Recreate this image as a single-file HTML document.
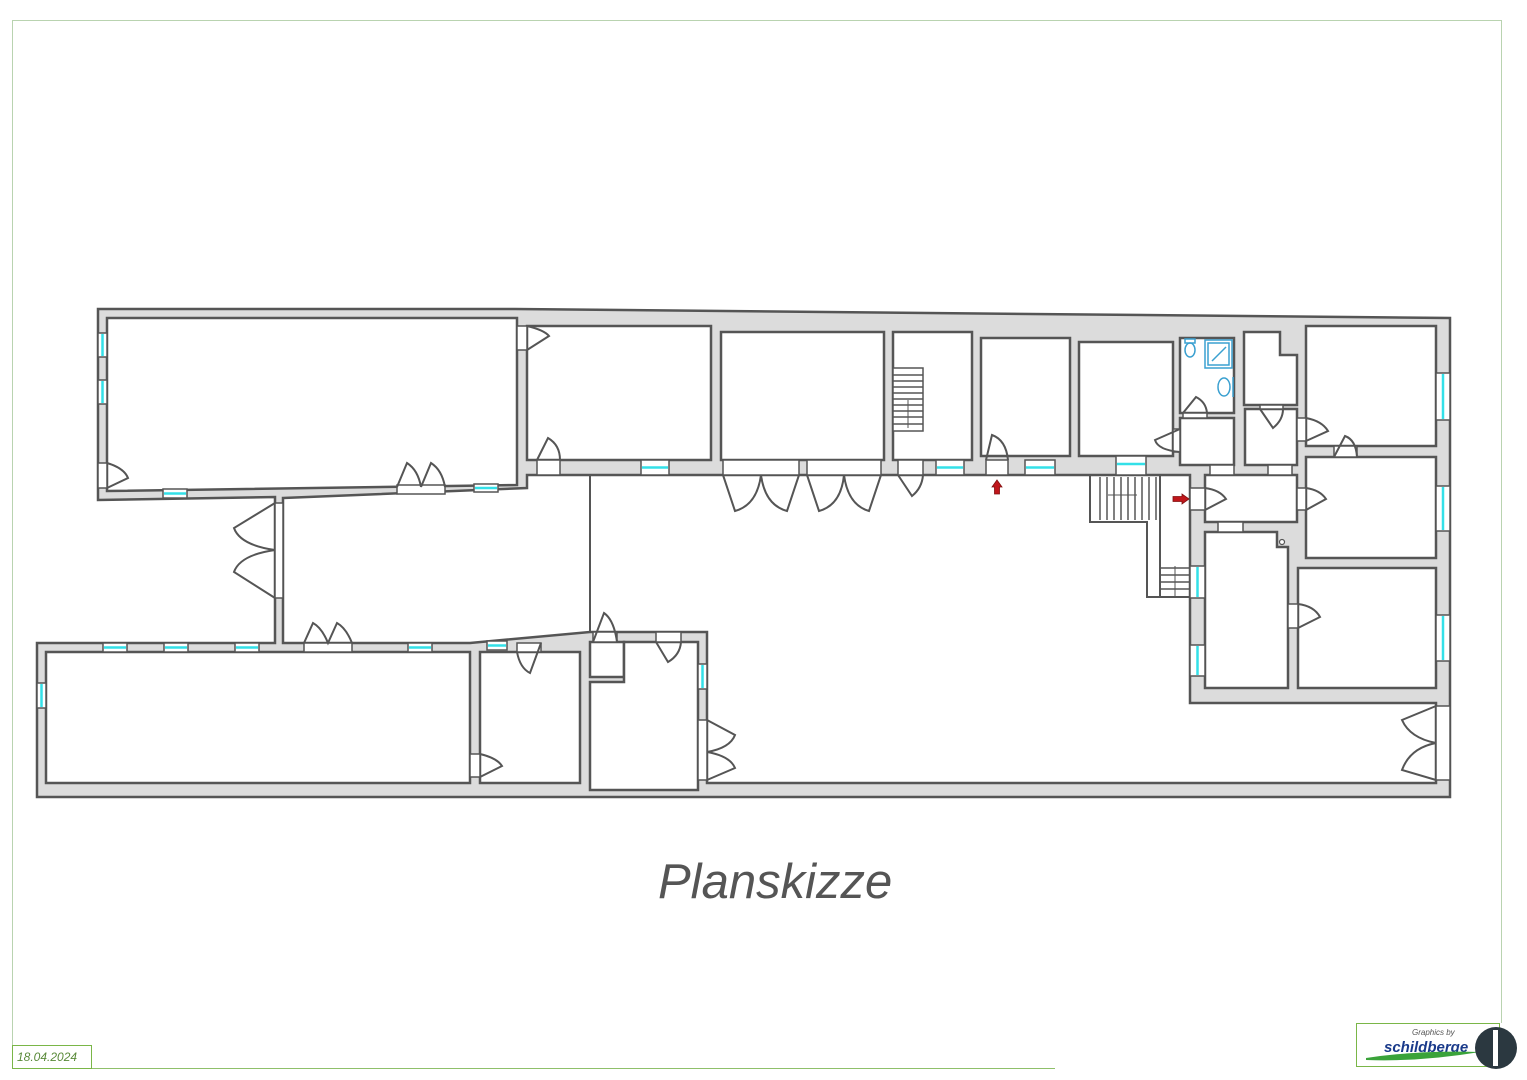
<!DOCTYPE html>
<html><head><meta charset="utf-8"><style>
html,body{margin:0;padding:0;background:#fff;}
svg{display:block;}
</style></head><body>
<svg width="1527" height="1080" viewBox="0 0 1527 1080" xmlns="http://www.w3.org/2000/svg">
<!-- frame -->
<g fill="none" stroke="#b9d3b0" stroke-width="1">
<line x1="12" y1="20.5" x2="1501" y2="20.5"/>
<line x1="12.5" y1="20" x2="12.5" y2="1068"/>
<line x1="1501.5" y1="20" x2="1501.5" y2="1023"/>
</g>
<line x1="12" y1="1068.5" x2="1055" y2="1068.5" stroke="#8fc06a" stroke-width="1"/>
<rect x="12.5" y="1045.5" width="79" height="23" fill="none" stroke="#7ab648" stroke-width="1"/>
<text x="17" y="1061" font-family="Liberation Sans, sans-serif" font-style="italic" font-size="12" fill="#5a8a3a">18.04.2024</text>
<!-- logo -->
<rect x="1356.5" y="1023.5" width="143" height="43" fill="#fff" stroke="#7ab648" stroke-width="1"/>
<text x="1412" y="1035" font-family="Liberation Sans, sans-serif" font-style="italic" font-size="8" fill="#555">Graphics by</text>
<text x="1384" y="1052" font-family="Liberation Sans, sans-serif" font-style="italic" font-weight="bold" font-size="15" fill="#1a3a8a">schildberge</text>
<path d="M1366,1058 Q1420,1050 1480,1052 Q1420,1062 1366,1060Z" fill="#3aa33a"/>
<circle cx="1496" cy="1048" r="21" fill="#2b3840"/>
<rect x="1493" y="1030" width="5" height="36" fill="#fff"/>

<!-- building outer walls -->
<path d="M98,309 L515,309 L1450,318 L1450,797 L37,797 L37,643 L275,643 L275,497 L98,500 Z" fill="#dcdcdc" stroke="#555" stroke-width="2.5"/>

<g fill="#fff" stroke="#555" stroke-width="2.5">
<!-- courtyard -->
<path d="M283,498 L527,488 L527,475 L1190,475 L1190,703 L1436,703 L1436,783 L707,783 L707,632 L590,632 L470,643 L283,643 Z"/>
<!-- rooms -->
<path d="M107,318 L517,318 L517,485 L107,491 Z"/>
<rect x="527" y="326" width="184" height="134"/>
<rect x="721" y="332" width="163" height="128"/>
<rect x="893" y="332" width="79" height="128"/>
<rect x="981" y="338" width="89" height="118"/>
<rect x="1079" y="342" width="94" height="114"/>
<rect x="1180" y="338" width="54" height="75"/>
<rect x="1180" y="418" width="54" height="47"/>
<path d="M1244,332 L1280,332 L1280,355 L1297,355 L1297,405 L1244,405 Z"/>
<rect x="1245" y="409" width="52" height="56"/>
<rect x="1306" y="326" width="130" height="120"/>
<rect x="1306" y="457" width="130" height="101"/>
<rect x="1205" y="475" width="92" height="47"/>
<path d="M1205,532 L1277,532 L1277,547 L1288,547 L1288,688 L1205,688 Z"/>
<rect x="1298" y="568" width="138" height="120"/>
<rect x="46" y="652" width="424" height="131"/>
<rect x="480" y="652" width="100" height="131"/>
<rect x="590" y="642" width="34" height="35"/>
<path d="M624,642 L698,642 L698,790 L590,790 L590,682 L624,682 Z"/>
</g>
<circle cx="1282" cy="542" r="2.5" fill="#fff" stroke="#555" stroke-width="1.2"/>
<line x1="590" y1="475" x2="590" y2="632" stroke="#555" stroke-width="2"/>
<line x1="1160" y1="475" x2="1160" y2="597" stroke="#555" stroke-width="2"/>
<!-- outer stair -->
<path d="M1090,475 L1090,522 L1147,522 L1147,597 L1190,597" fill="none" stroke="#555" stroke-width="2"/>
<g stroke="#555" stroke-width="1.5">
<line x1="1100" y1="477" x2="1100" y2="520"/><line x1="1107" y1="477" x2="1107" y2="520"/><line x1="1114" y1="477" x2="1114" y2="520"/><line x1="1121" y1="477" x2="1121" y2="520"/><line x1="1128" y1="477" x2="1128" y2="520"/><line x1="1135" y1="477" x2="1135" y2="520"/><line x1="1142" y1="477" x2="1142" y2="520"/><line x1="1149" y1="477" x2="1149" y2="520"/><line x1="1156" y1="477" x2="1156" y2="520"/>
<line x1="1108" y1="495" x2="1137" y2="495" stroke-width="1"/>
<line x1="1160" y1="568" x2="1190" y2="568"/><line x1="1160" y1="575" x2="1190" y2="575"/><line x1="1160" y1="582" x2="1190" y2="582"/><line x1="1160" y1="589" x2="1190" y2="589"/>
<line x1="1175" y1="566" x2="1175" y2="597" stroke-width="1"/>
</g>
<!-- inner stair -->
<g stroke="#555" stroke-width="1.5">
<rect x="893" y="368" width="30" height="63" fill="#fff"/>
<line x1="893" y1="375" x2="923" y2="375"/><line x1="893" y1="381" x2="923" y2="381"/><line x1="893" y1="387" x2="923" y2="387"/><line x1="893" y1="393" x2="923" y2="393"/><line x1="893" y1="399" x2="923" y2="399"/><line x1="893" y1="405" x2="923" y2="405"/><line x1="893" y1="411" x2="923" y2="411"/><line x1="893" y1="417" x2="923" y2="417"/><line x1="893" y1="424" x2="923" y2="424"/>
<line x1="908" y1="400" x2="908" y2="428" stroke-width="1"/>
</g>

<!-- door openings (white gaps in walls) -->
<g fill="#fff" stroke="#555" stroke-width="1.5">
<rect x="98" y="463" width="9" height="25"/>
<rect x="397" y="485" width="48" height="9"/>
<rect x="517" y="326" width="10" height="24"/>
<rect x="537" y="460" width="23" height="15"/>
<rect x="723" y="460" width="76" height="15"/>
<rect x="807" y="460" width="74" height="15"/>
<rect x="898" y="460" width="25" height="15"/>
<rect x="986" y="460" width="22" height="15"/>
<rect x="1183" y="413" width="24" height="5"/>
<rect x="1173" y="429" width="7" height="23"/>
<rect x="1260" y="405" width="23" height="4"/>
<rect x="1297" y="418" width="9" height="23"/>
<rect x="1334" y="446" width="23" height="11"/>
<rect x="1190" y="488" width="15" height="22"/>
<rect x="1297" y="488" width="9" height="22"/>
<rect x="1218" y="522" width="25" height="10"/>
<rect x="1210" y="465" width="24" height="10"/>
<rect x="1268" y="465" width="24" height="10"/>
<rect x="1288" y="604" width="10" height="24"/>
<rect x="1436" y="706" width="14" height="74"/>
<rect x="275" y="503" width="8" height="95"/>
<rect x="304" y="643" width="48" height="9"/>
<rect x="517" y="643" width="24" height="9"/>
<rect x="470" y="754" width="10" height="23"/>
<rect x="593" y="632" width="24" height="10"/>
<rect x="656" y="632" width="25" height="10"/>
<rect x="698" y="720" width="9" height="60"/>
</g>
<!-- windows -->
<g fill="#fff" stroke="#555" stroke-width="1.5">
<rect x="98" y="333" width="9" height="24"/><rect x="98" y="380" width="9" height="24"/>
<rect x="163" y="489" width="24" height="9"/><rect x="474" y="484" width="24" height="8"/>
<rect x="641" y="460" width="28" height="15"/>
<rect x="936" y="460" width="28" height="15"/><rect x="1025" y="460" width="30" height="15"/>
<rect x="1116" y="456" width="30" height="19"/>
<rect x="1436" y="373" width="14" height="47"/><rect x="1436" y="486" width="14" height="45"/><rect x="1436" y="615" width="14" height="46"/>
<rect x="1190" y="566" width="15" height="32"/><rect x="1190" y="645" width="15" height="31"/>
<rect x="103" y="643" width="24" height="9"/><rect x="164" y="643" width="24" height="9"/><rect x="235" y="643" width="24" height="9"/><rect x="408" y="643" width="24" height="9"/>
<rect x="487" y="641" width="20" height="9"/>
<rect x="37" y="683" width="9" height="25"/>
<rect x="698" y="664" width="9" height="25"/>
</g>
<g stroke="#33e0e8" stroke-width="2.5">
<line x1="102.5" y1="334" x2="102.5" y2="356"/><line x1="102.5" y1="381" x2="102.5" y2="403"/>
<line x1="164" y1="493.5" x2="186" y2="493.5"/><line x1="475" y1="488" x2="497" y2="488"/>
<line x1="642" y1="467.5" x2="668" y2="467.5"/>
<line x1="937" y1="467.5" x2="963" y2="467.5"/><line x1="1026" y1="467.5" x2="1054" y2="467.5"/>
<line x1="1117" y1="464" x2="1145" y2="464"/>
<line x1="1443" y1="374" x2="1443" y2="419"/><line x1="1443" y1="487" x2="1443" y2="530"/><line x1="1443" y1="616" x2="1443" y2="660"/>
<line x1="1197.5" y1="567" x2="1197.5" y2="597"/><line x1="1197.5" y1="646" x2="1197.5" y2="675"/>
<line x1="104" y1="647.5" x2="126" y2="647.5"/><line x1="165" y1="647.5" x2="187" y2="647.5"/><line x1="236" y1="647.5" x2="258" y2="647.5"/><line x1="409" y1="647.5" x2="431" y2="647.5"/>
<line x1="488" y1="645.5" x2="506" y2="645.5"/>
<line x1="41.5" y1="684" x2="41.5" y2="707"/>
<line x1="702.5" y1="665" x2="702.5" y2="688"/>
</g>
<!-- door leaves -->
<g fill="none" stroke="#555" stroke-width="2">
<path d="M107,463 Q124,468 128,478 L107,488"/>
<path d="M397,487 L407,463 Q418,470 421,487 M421,487 L431,463 Q442,470 445,487"/>
<path d="M527,326 Q544,330 549,336 L527,350"/>
<path d="M537,460 L548,438 Q560,445 560,460"/>
<path d="M723,475 L735,511 Q757,505 761,475 Q765,505 787,511 L799,475"/>
<path d="M807,475 L819,511 Q841,505 844,475 Q848,505 869,511 L881,475"/>
<path d="M898,475 L912,496 Q922,488 923,475"/>
<path d="M986,460 L992,435 Q1006,440 1008,460"/>
<path d="M1183,413 L1196,397 Q1206,402 1207,413"/>
<path d="M1180,429 L1155,440 Q1158,450 1180,452"/>
<path d="M1260,409 L1273,428 Q1283,420 1283,409"/>
<path d="M1306,418 Q1322,421 1328,431 L1306,441"/>
<path d="M1334,457 L1345,436 Q1356,440 1357,457"/>
<path d="M1205,488 Q1220,490 1226,499 L1205,510"/>
<path d="M1306,488 Q1320,490 1326,499 L1306,510"/>
<path d="M1298,604 Q1314,606 1320,617 L1298,628"/>
<path d="M1436,706 L1402,720 Q1410,738 1436,743 Q1410,748 1402,770 L1436,780"/>
<path d="M275,503 L234,528 Q240,545 275,550 Q240,555 234,572 L275,598"/>
<path d="M304,643 L313,623 Q322,628 328,643 L337,623 Q346,628 352,643"/>
<path d="M517,652 Q520,668 530,673 L541,643"/>
<path d="M480,754 Q497,758 502,766 L480,777"/>
<path d="M593,642 L604,613 Q614,620 617,642"/>
<path d="M656,642 L668,662 Q680,655 681,642"/>
<path d="M707,720 L735,735 Q730,748 707,752 Q730,756 735,768 L707,780"/>
</g>
<!-- bathroom fixtures -->
<g fill="none" stroke="#3aa0d0" stroke-width="1.5">
<ellipse cx="1190" cy="350" rx="5" ry="7"/><rect x="1185" y="339" width="10" height="4"/>
<rect x="1205" y="340" width="27" height="28"/><rect x="1208" y="343" width="21" height="22"/>
<line x1="1212" y1="361" x2="1226" y2="347"/>
<ellipse cx="1224" cy="387" rx="6" ry="9"/><line x1="1233" y1="377" x2="1233" y2="397"/>
</g>
<!-- red arrows -->
<path d="M997,480 L1002,487 L999.5,487 L999.5,494 L994.5,494 L994.5,487 L992,487 Z" fill="#c0161b" stroke="#801010" stroke-width="0.8"/>
<path d="M1189,499 L1182,494 L1182,496.5 L1173,496.5 L1173,501.5 L1182,501.5 L1182,504 Z" fill="#c0161b" stroke="#801010" stroke-width="0.8"/>

<text x="658" y="898" font-family="Liberation Sans, sans-serif" font-style="italic" font-size="49" fill="#555">Planskizze</text>
</svg>
</body></html>
